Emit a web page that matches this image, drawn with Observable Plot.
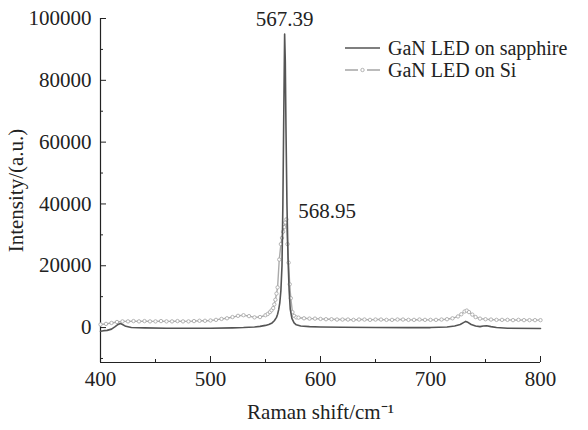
<!DOCTYPE html>
<html>
<head>
<meta charset="utf-8">
<script src="https://cdn.jsdelivr.net/npm/d3@7"></script>
<script src="https://cdn.jsdelivr.net/npm/@observablehq/plot@0.6"></script>
<style>
  html, body { margin: 0; padding: 0; background: #fff; }
  #wrap { position: relative; width: 588px; height: 430px; font-family: "Liberation Serif", "Times New Roman", serif; }
  #legend { position: absolute; left: 345px; top: 37px; font-size: 20px; color: #222; line-height: 22px; }
  #legend .row { display: flex; align-items: center; height: 22px; }
  #legend svg { margin-right: 8px; }
</style>
</head>
<body>
<div id="wrap">
  <div id="chart"></div>
  <div id="legend"></div>
</div>
<script>
// ---- Data ----
const seriesNames = ["GaN LED on sapphire", "GaN LED on Si"];

const sapphireX = [400,403,406,410,413,416,418,420,423,428,440,460,480,500,520,530,540,545,550,553,556,558,560,561,562,563,564,565,565.8,566.5,567.39,568,568.6,569.5,570.5,571.5,572.5,574,576,578,582,590,600,620,650,680,700,715,722,727,730,732,734,737,741,745,748,751,755,760,770,800];
const sapphireY = [-1200,-1000,-900,-500,200,1000,1300,1000,400,0,-100,-200,-200,-200,-100,0,200,400,700,1000,1500,2200,3300,4300,5800,8000,12000,20000,40000,65000,95000,86000,65000,40000,22000,12000,6000,3000,1500,900,500,300,200,100,0,0,0,200,500,1000,1600,2000,1700,1000,500,300,500,600,300,0,-200,-300];

const siX = [400,405,410,415,420,425,430,435,440,445,450,455,460,465,470,475,480,485,490,495,500,505,510,515,520,525,530,535,540,545,550,552,554,555.5,557,558,559,560,561,562.5,564,565,566,567,568,568.95,570,571,572,573,574.5,576,578,580,585,590,595,600,605,610,615,620,625,630,635,640,645,650,655,660,665,670,675,680,685,690,695,700,705,710,715,720,725,728,731,733,735,738,741,745,750,755,760,765,770,775,780,785,790,795,800];
const siY = [1000,1200,1500,1800,2000,2000,2100,2000,2100,2000,2000,2100,2000,2000,2100,2000,2000,2100,2200,2200,2300,2500,2800,3000,3400,3800,4000,3700,3300,3400,4000,4400,5000,5600,6300,7500,9000,11000,13000,22000,27000,29000,31000,32500,34000,35000,27000,21000,14000,9500,5000,3800,3300,3200,3000,2900,2900,2800,2700,2700,2600,2600,2600,2500,2600,2600,2500,2600,2600,2500,2500,2600,2600,2500,2500,2600,2500,2500,2500,2600,2700,3000,3600,4300,5200,5500,5000,4200,3400,2900,2700,2600,2500,2500,2500,2400,2500,2400,2400,2400,2400];

const peakX = [567.39, 568.95];
const peakY = [95000, 35000];
const peakLabels = ["567.39", "568.95"];

const xTicks = [400, 500, 600, 700, 800];
const xMinorTicks = [450, 550, 650, 750];
const yTicks = [0, 20000, 40000, 60000, 80000, 100000];
const yMinorTicks = [-10000, 10000, 30000, 50000, 70000, 90000];
const yDomain = [-11300, 100000];
const xDomain = [400, 800];

const colSapphire = "#555";
const colSi = "#aaa";

// ---- Build tables ----
const sapphire = sapphireX.map((x, i) => ({x, y: sapphireY[i]}));
const si = siX.map((x, i) => ({x, y: siY[i]}));
const peaks = peakX.map((x, i) => ({x, y: peakY[i], label: peakLabels[i]}));

const chart = Plot.plot({
  width: 588,
  height: 430,
  marginLeft: 100,
  marginRight: 48,
  marginTop: 18,
  marginBottom: 68,
  style: {fontFamily: '"Liberation Serif", "Times New Roman", serif', fontSize: "21px", color: "#222", background: "#fff"},
  x: {domain: xDomain},
  y: {domain: yDomain},
  marks: [
    // axis lines
    Plot.ruleX([xDomain[0]], {stroke: "#222", strokeWidth: 1.2}),
    Plot.ruleY([yDomain[0]], {stroke: "#222", strokeWidth: 1.2}),
    // y axis: labels, major and minor inward ticks
    Plot.axisY({ticks: yTicks, tickSize: 0, tickPadding: 9, tickFormat: d => String(d), fontSize: 21,
      label: "Intensity/(a.u.)", labelAnchor: "center", labelOffset: 92, labelArrow: "none"}),
    Plot.axisY({ticks: yTicks, tickSize: -6, tickFormat: () => "", label: null, stroke: "#222"}),
    Plot.axisY({ticks: yMinorTicks, tickSize: -3, tickFormat: () => "", label: null, stroke: "#222"}),
    // x axis
    Plot.axisX({ticks: xTicks, tickSize: 0, tickPadding: 9, fontSize: 21,
      label: "Raman shift/cm⁻¹", labelAnchor: "center", labelOffset: 56, labelArrow: "none"}),
    Plot.axisX({ticks: xTicks, tickSize: -6, tickFormat: () => "", label: null, stroke: "#222"}),
    Plot.axisX({ticks: xMinorTicks, tickSize: -3, tickFormat: () => "", label: null, stroke: "#222"}),
    // series
    Plot.line(si, {x: "x", y: "y", stroke: colSi, strokeWidth: 1.4}),
    Plot.dot(si, {x: "x", y: "y", r: 1.7, stroke: colSi, fill: "#fff", strokeWidth: 0.9}),
    Plot.line(sapphire, {x: "x", y: "y", stroke: colSapphire, strokeWidth: 1.6}),
    // peak labels
    Plot.text(peaks.slice(0, 1), {x: "x", y: "y", text: "label", dy: -15, textAnchor: "middle", fontSize: 21, fill: "#222"}),
    Plot.text(peaks.slice(1), {x: "x", y: "y", text: "label", dx: 12, dy: -8, textAnchor: "start", fontSize: 21, fill: "#222"})
  ]
});
document.getElementById("chart").append(chart);

// ---- Legend ----
const legend = document.getElementById("legend");
const styles = [
  {stroke: colSapphire, dot: false},
  {stroke: colSi, dot: true}
];
seriesNames.forEach((name, i) => {
  const row = document.createElement("div");
  row.className = "row";
  const s = styles[i];
  const sw = s.dot
    ? `<svg width="35" height="10"><line x1="0" y1="5" x2="13" y2="5" stroke="${s.stroke}" stroke-width="1.6"/><circle cx="17.5" cy="5" r="1.7" fill="#fff" stroke="${s.stroke}" stroke-width="0.9"/><line x1="22" y1="5" x2="35" y2="5" stroke="${s.stroke}" stroke-width="1.6"/></svg>`
    : `<svg width="35" height="10"><line x1="0" y1="5" x2="35" y2="5" stroke="${s.stroke}" stroke-width="1.6"/></svg>`;
  row.innerHTML = sw + `<span>${name}</span>`;
  legend.append(row);
});
</script>
</body>
</html>
